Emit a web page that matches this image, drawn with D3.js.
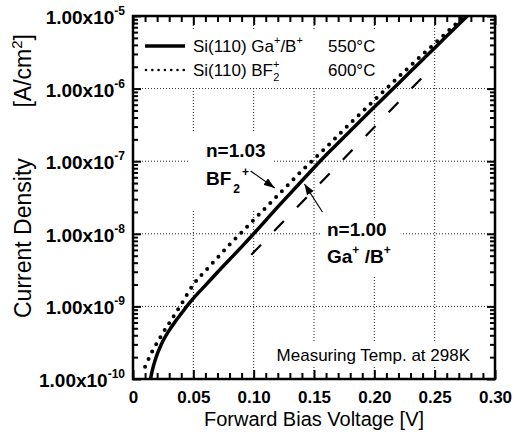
<!DOCTYPE html>
<html>
<head>
<meta charset="utf-8">
<script src="https://cdn.jsdelivr.net/npm/d3@7"></script>
<style>
  body { margin: 0; background: #fff; }
  svg { display: block; font-family: Arial, "Liberation Sans", sans-serif; }
</style>
</head>
<body>
<div id="vis"></div>
<script>
// Forward I-V curves, Si(110) p+/n diodes (log current density vs bias)

const width = 513, height = 434;

// Si(110) Ga+/B+ 550°C (solid)
const voltGa = [0.0145, 0.016, 0.018, 0.020, 0.0225, 0.025, 0.030, 0.035, 0.040, 0.045, 0.050,
  0.060, 0.070, 0.080, 0.090, 0.100, 0.110, 0.120, 0.130, 0.140, 0.150, 0.160, 0.170, 0.180,
  0.190, 0.200, 0.210, 0.220, 0.230, 0.240, 0.250, 0.260, 0.270, 0.277];
const logJGa = [-10.0, -9.88, -9.76, -9.66, -9.56, -9.47, -9.33, -9.21, -9.10, -8.99, -8.89,
  -8.71, -8.53, -8.355, -8.18, -8.00, -7.815, -7.63, -7.45, -7.27, -7.09, -6.915, -6.75, -6.585,
  -6.42, -6.255, -6.092, -5.929, -5.766, -5.603, -5.44, -5.277, -5.114, -5.00];

// Si(110) BF2+ 600°C (dotted)
const voltBF = [0.010, 0.015, 0.020, 0.025, 0.030, 0.035, 0.040, 0.045, 0.050, 0.060, 0.070, 0.080,
  0.090, 0.100, 0.110, 0.120, 0.130, 0.140, 0.150, 0.160, 0.170, 0.180, 0.190, 0.200, 0.210,
  0.220, 0.230, 0.240, 0.250, 0.260, 0.270, 0.274];
const logJBF = [-9.83, -9.65, -9.50, -9.36, -9.23, -9.10, -8.97, -8.83, -8.70, -8.51, -8.33, -8.15,
  -7.98, -7.81, -7.64, -7.47, -7.30, -7.13, -6.97, -6.81, -6.645, -6.48, -6.32, -6.16, -6.00,
  -5.84, -5.685, -5.53, -5.38, -5.225, -5.07, -5.00];

// ideal n = 1.00 reference (dashed)
const voltRef = [0.098, 0.247];
const logJRef = [-8.29, -5.72];

const xMajor = [0, 0.05, 0.10, 0.15, 0.20, 0.25, 0.30];
const xLabels = ["0", "0.05", "0.10", "0.15", "0.20", "0.25", "0.30"];
const yExps = [-10, -9, -8, -7, -6, -5];

const toPts = (vs, ls) => vs.map((v, i) => ({ v, j: Math.pow(10, ls[i]) }));

const M = { left: 133, right: 495, top: 16, bottom: 379 };
const x = d3.scaleLinear().domain([0, 0.3]).range([M.left, M.right]);
const y = d3.scaleLog().domain([1e-10, 1e-5]).range([M.bottom, M.top]);

const svg = d3.select("#vis").append("svg")
  .attr("width", width).attr("height", height);

const defs = svg.append("defs");
defs.append("clipPath").attr("id", "plot")
  .append("rect").attr("x", M.left).attr("y", M.top)
  .attr("width", M.right - M.left).attr("height", M.bottom - M.top);
defs.append("marker").attr("id", "head")
  .attr("viewBox", "0 0 11 8").attr("refX", 11).attr("refY", 4)
  .attr("markerWidth", 11).attr("markerHeight", 8)
  .attr("markerUnits", "userSpaceOnUse").attr("orient", "auto")
  .append("path").attr("d", "M0,0 L11,4 L0,8 Z").attr("fill", "#000");

// ---- grid
const gGrid = svg.append("g").attr("stroke", "#222").attr("stroke-width", 1)
  .attr("stroke-dasharray", "1,2");
gGrid.selectAll("line.gx").data(xMajor.slice(1, -1)).join("line").attr("class", "gx")
  .attr("x1", d => x(d)).attr("x2", d => x(d)).attr("y1", M.top).attr("y2", M.bottom);
gGrid.selectAll("line.gy").data(yExps.slice(1, -1)).join("line").attr("class", "gy")
  .attr("y1", d => y(Math.pow(10, d))).attr("y2", d => y(Math.pow(10, d)))
  .attr("x1", M.left).attr("x2", M.right);

const gBoxes = svg.append("g");
const gData = svg.append("g").attr("clip-path", "url(#plot)");
const gText = svg.append("g");

// ---- curves
const line = d3.line().x(d => x(d.v)).y(d => y(d.j)).curve(d3.curveMonotoneX);

gData.append("path").datum(toPts(voltRef, logJRef))
  .attr("d", line).attr("fill", "none").attr("stroke", "#000")
  .attr("stroke-width", 2.2).attr("stroke-dasharray", "14,19");

gData.append("path").datum(toPts(voltBF, logJBF))
  .attr("d", line).attr("fill", "none").attr("stroke", "#000")
  .attr("stroke-width", 4).attr("stroke-linecap", "round").attr("stroke-dasharray", "0,8.3");

gData.append("path").datum(toPts(voltGa, logJGa))
  .attr("d", line).attr("fill", "none").attr("stroke", "#000")
  .attr("stroke-width", 3.5);

// ---- legend
const lg = gText.append("g").attr("font-size", 17).attr("fill", "#000");
lg.append("line").attr("x1", 145).attr("x2", 185).attr("y1", 46).attr("y2", 46)
  .attr("stroke", "#000").attr("stroke-width", 3.5);
lg.append("line").attr("x1", 146).attr("x2", 184).attr("y1", 70).attr("y2", 70)
  .attr("stroke", "#000").attr("stroke-width", 2.6).attr("stroke-linecap", "round")
  .attr("stroke-dasharray", "0,6.3");
const t1 = lg.append("text").attr("x", 193).attr("y", 52);
t1.append("tspan").text("Si(110) Ga");
t1.append("tspan").attr("font-size", 11).attr("dy", -8).text("+");
t1.append("tspan").attr("dy", 8).text("/B");
t1.append("tspan").attr("font-size", 11).attr("dy", -8).text("+");
const t2 = lg.append("text").attr("x", 193).attr("y", 76);
t2.append("tspan").text("Si(110) BF");
t2.append("tspan").attr("font-size", 11).attr("dy", -8).text("+");
t2.append("tspan").attr("font-size", 11).attr("dx", -6.3).attr("dy", 13).text("2");
lg.append("text").attr("x", 328).attr("y", 52).text("550°C");
lg.append("text").attr("x", 328).attr("y", 76).text("600°C");

// ---- annotations
const an = gText.append("g").attr("font-size", 19).attr("font-weight", "bold");
const a1 = an.append("g");
a1.append("text").attr("x", 206).attr("y", 157).text("n=1.03");
const bf = a1.append("text").attr("x", 206).attr("y", 185);
bf.append("tspan").text("BF");
bf.append("tspan").attr("font-size", 12).attr("dx", 2).attr("dy", 8).text("2");
bf.append("tspan").attr("font-size", 12).attr("dx", 2).attr("dy", -17).text("+");

const a2 = an.append("g");
a2.append("text").attr("x", 327).attr("y", 236).text("n=1.00");
const ga = a2.append("text").attr("x", 327).attr("y", 263);
ga.append("tspan").text("Ga");
ga.append("tspan").attr("font-size", 12).attr("dy", -9).text("+");
ga.append("tspan").attr("dy", 9).text(" /B");
ga.append("tspan").attr("font-size", 12).attr("dy", -9).text("+");

const a3 = gText.append("text").attr("x", 470).attr("y", 361)
  .attr("text-anchor", "end").attr("font-size", 17).text("Measuring Temp. at 298K");

// arrows (data coordinates)
const arrows = [
  { from: [0.0975, -7.135], to: [0.1174, -7.369] },
  { from: [0.157, -7.70], to: [0.1421, -7.314] }
];
gText.selectAll("line.arrow").data(arrows).join("line").attr("class", "arrow")
  .attr("x1", d => x(d.from[0])).attr("y1", d => y(Math.pow(10, d.from[1])))
  .attr("x2", d => x(d.to[0])).attr("y2", d => y(Math.pow(10, d.to[1])))
  .attr("stroke", "#000").attr("stroke-width", 1.2).attr("marker-end", "url(#head)");

// white boxes behind text hiding grid
function box(sel, pl, pr, pt, pb) {
  const b = sel.node().getBBox();
  gBoxes.append("rect").attr("x", b.x - pl).attr("y", b.y - pt)
    .attr("width", b.width + pl + pr).attr("height", b.height + pt + pb).attr("fill", "#fff");
}
box(lg, 6, 8, 4, 3);
box(a1, 18, 7, 8, 14);
box(a2, 5, 10, 1, 10);
box(a3, 5, 5, 3, 0);

// ---- axes (ticks inward on all four sides)
function styleAxis(g) {
  g.select(".domain").remove();
  g.selectAll(".tick line").attr("stroke", "#000").attr("stroke-width", 2);
}
const xMinor = d3.range(0, 31).map(i => i / 100).filter(v => Math.round(v * 100) % 5 !== 0);
const yMinor = [];
yExps.slice(0, -1).forEach(e => { for (let m = 2; m <= 9; m++) yMinor.push(m * Math.pow(10, e)); });
const yMajor = yExps.map(e => Math.pow(10, e));

svg.append("g").attr("transform", `translate(0,${M.bottom})`)
  .call(d3.axisBottom(x).tickValues(xMajor).tickSizeInner(-9).tickSizeOuter(0).tickPadding(12)
    .tickFormat((d, i) => xLabels[i]))
  .call(styleAxis)
  .call(g => g.selectAll("text").attr("font-size", 17).attr("font-weight", "bold")
    .attr("fill", "#000").attr("font-family", null));
svg.append("g").attr("transform", `translate(0,${M.bottom})`)
  .call(d3.axisBottom(x).tickValues(xMinor).tickSizeInner(-6).tickSizeOuter(0).tickFormat(""))
  .call(styleAxis);
svg.append("g").attr("transform", `translate(0,${M.top})`)
  .call(d3.axisTop(x).tickValues(xMajor).tickSizeInner(-9).tickSizeOuter(0).tickFormat(""))
  .call(styleAxis);
svg.append("g").attr("transform", `translate(0,${M.top})`)
  .call(d3.axisTop(x).tickValues(xMinor).tickSizeInner(-6).tickSizeOuter(0).tickFormat(""))
  .call(styleAxis);
[[M.left, d3.axisLeft], [M.right, d3.axisRight]].forEach(([pos, ax]) => {
  svg.append("g").attr("transform", `translate(${pos},0)`)
    .call(ax(y).tickValues(yMajor).tickSizeInner(-8).tickSizeOuter(0).tickFormat(""))
    .call(styleAxis);
  svg.append("g").attr("transform", `translate(${pos},0)`)
    .call(ax(y).tickValues(yMinor).tickSizeInner(-5).tickSizeOuter(0).tickFormat(""))
    .call(styleAxis);
});

// y tick labels 1.00x10^n
const yl = svg.append("g").attr("font-size", 19).attr("font-weight", "bold")
  .attr("text-anchor", "end");
yExps.forEach(e => {
  const t = yl.append("text").attr("x", 125).attr("y", y(Math.pow(10, e)) + 8);
  t.append("tspan").text("1.00x10");
  t.append("tspan").attr("font-size", 12).attr("dy", -9).text(String(e));
});

// frame
svg.append("rect").attr("x", M.left).attr("y", M.top)
  .attr("width", M.right - M.left).attr("height", M.bottom - M.top)
  .attr("fill", "none").attr("stroke", "#000").attr("stroke-width", 2.5);

// axis titles
svg.append("text").attr("x", (M.left + M.right) / 2).attr("y", 426)
  .attr("text-anchor", "middle").attr("font-size", 20).text("Forward Bias Voltage [V]");
const gyt = svg.append("g").attr("transform", "translate(31,0) rotate(-90)")
  .attr("font-size", 23);
gyt.append("text").attr("x", -318).attr("y", 0).text("Current Density");
const yt = gyt.append("text").attr("x", -34).attr("y", 0).attr("text-anchor", "end");
yt.append("tspan").text("[A/cm");
yt.append("tspan").attr("font-size", 15).attr("dy", -9).text("2");
yt.append("tspan").attr("dy", 9).text("]");
</script>
</body>
</html>
